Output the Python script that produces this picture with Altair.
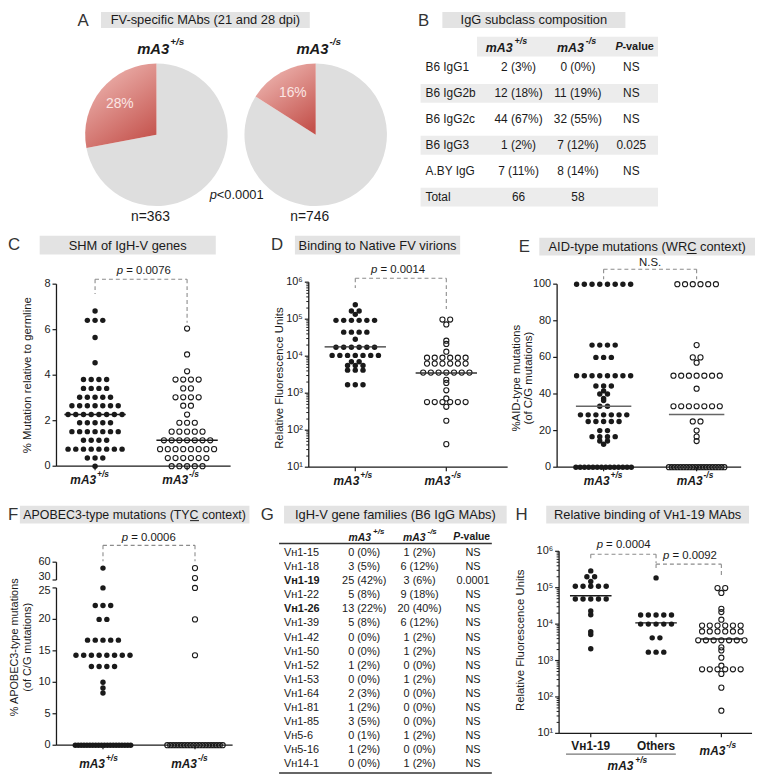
import json
import altair as alt
import pandas as pd

FONT = "Liberation Sans"
INK = "#1a1a1a"
W, H = 755, 770
M = 8


def X(x):
    return x - M


def Y(y):
    return y - M


DUMMY = pd.DataFrame({"k": [0]})

# ---------------- data ----------------
genotypes = ["+/s", "-/s"]

# A : FV-specific MAbs
pie_pct = [28, 16]
pie_n = [363, 746]
pie_p = "<0.0001"

# B : IgG subclass composition
b_rows = ["B6 IgG1", "B6 IgG2b", "B6 IgG2c", "B6 IgG3", "A.BY IgG", "Total"]
b_pos = ["2 (3%)", "12 (18%)", "44 (67%)", "1 (2%)", "7 (11%)", "66"]
b_neg = ["0 (0%)", "11 (19%)", "32 (55%)", "7 (12%)", "8 (14%)", "58"]
b_pval = ["NS", "NS", "NS", "0.025", "NS", ""]

# C : SHM of IgH-V genes (% mutation)
c_pos = [6.82, 6.41, 6.41, 6.41, 5.66, 4.55,
         3.81, 3.81, 3.81, 3.81, 3.42, 3.42, 3.42, 3.42,
         3.03, 3.03, 3.03, 3.03, 3.03,
         2.66, 2.66, 2.66, 2.66, 2.66, 2.66, 2.66,
         2.27, 2.27, 2.27, 2.27, 2.27, 2.27, 2.27, 2.27,
         1.91, 1.91, 1.91, 1.91, 1.91,
         1.52, 1.52, 1.52, 1.52, 1.52, 1.52, 1.52,
         1.14, 1.14, 1.14, 1.14,
         0.75, 0.75, 0.75, 0.75, 0.75, 0.75, 0.75, 0.75,
         0.36, 0.36, 0.36, 0.0]
c_neg = [6.05, 4.91, 4.17, 3.81, 3.81, 3.81, 3.81, 3.42, 3.42,
         3.03, 3.03, 3.03, 3.03, 2.66, 2.66, 2.27, 1.91, 1.91, 1.91,
         1.52, 1.52, 1.52, 1.52, 1.52,
         1.14, 1.14, 1.14, 1.14, 1.14, 1.14, 1.14,
         0.75, 0.75, 0.75, 0.75, 0.75, 0.75, 0.75, 0.75,
         0.36, 0.36, 0.36, 0.36, 0.36, 0.36,
         0.0, 0.0, 0.0, 0.0, 0.0]
c_med = [2.27, 1.14]
c_ticks = [0, 2, 4, 6, 8]

# D : binding to native FV virions (RFU)
d_pos = [245000, 166000, 166000, 135000,
         93000, 93000, 93000, 93000, 93000, 93000,
         44700, 44700, 44700, 44700, 28800,
         17400, 17400, 17400, 17400, 17400, 17400,
         10500, 10500, 10500, 10500, 10500, 10500, 10500,
         7100, 7100, 5600, 5600, 5600, 4200, 4200, 4200,
         1700, 1700, 1700]
d_neg = [98000, 98000, 72000, 26300, 21400, 13200,
         9100, 9100, 9100, 9100, 9100, 9100,
         6300, 6300, 6300, 6300, 6300, 6300,
         3600, 3600, 3600, 3600, 3600, 3600, 3600,
         2300, 1900, 1200, 720,
         575, 575, 575, 575, 575, 575,
         430, 180, 42]
d_med = [17900, 3500]
log_ticks = [10, 100, 1000, 10000, 100000, 1000000]
log_tick_labels = ["10\u00b9", "10\u00b2", "10\u00b3", "10\u2074", "10\u2075", "10\u2076"]

# E : AID-type mutations (%)
e_pos = [100, 100, 100, 100, 100, 100, 100, 100,
         66.7, 66.7, 66.7, 66.7, 60, 60, 60,
         50, 50, 50, 50, 50, 50, 50, 50,
         44.4, 44.4, 44.4, 41.7, 40, 40, 37.5, 36.4, 33.3, 33.3,
         28.6, 28.6, 28.6, 28.6, 28.6, 28.6, 28.6,
         25, 25, 25, 25, 25, 20, 20,
         16.7, 16.7, 16.7, 16.7, 14.3, 14.3, 12.5,
         0, 0, 0, 0, 0, 0, 0, 0, 0, 0, 0, 0, 0, 0]
e_neg = [100, 100, 100, 100, 100, 100, 66.7, 60, 60, 57.1,
         50, 50, 50, 50, 50, 50, 50, 42.9,
         33.3, 33.3, 33.3, 33.3, 33.3, 33.3, 33.3,
         25, 25, 20, 16.7, 14.3,
         0, 0, 0, 0, 0, 0, 0, 0, 0, 0, 0, 0, 0, 0, 0, 0, 0, 0, 0, 0]
e_med = [33.3, 28.8]
e_ticks = [0, 20, 40, 60, 80, 100]

# F : APOBEC3-type mutations (%)
f_pos = [50, 25, 22.2, 22.2, 22.2, 20, 20,
         16.7, 16.7, 16.7, 16.7, 16.7,
         14.3, 14.3, 14.3, 14.3, 14.3, 14.3, 14.3, 14.3,
         12.5, 12.5, 12.5, 12.5, 10, 9.1, 8.3,
         0, 0, 0, 0, 0, 0, 0, 0, 0, 0, 0, 0, 0, 0, 0, 0, 0, 0, 0, 0]
f_neg = [50, 33.3, 25, 20, 14.3,
         0, 0, 0, 0, 0, 0, 0, 0, 0, 0, 0, 0, 0, 0, 0, 0, 0, 0, 0, 0]
f_ticks = [0, 5, 10, 15, 20, 25, 30, 60]

# G : IgH-V gene families
g_genes = ["V\u029c1-15", "V\u029c1-18", "V\u029c1-19", "V\u029c1-22", "V\u029c1-26",
           "V\u029c1-39", "V\u029c1-42", "V\u029c1-50", "V\u029c1-52", "V\u029c1-53",
           "V\u029c1-64", "V\u029c1-81", "V\u029c1-85", "V\u029c5-6", "V\u029c5-16",
           "V\u029c14-1"]
g_pos = ["0 (0%)", "3 (5%)", "25 (42%)", "5 (8%)", "13 (22%)", "5 (8%)", "0 (0%)",
         "0 (0%)", "1 (2%)", "0 (0%)", "2 (3%)", "1 (2%)", "3 (5%)", "0 (1%)",
         "1 (2%)", "0 (0%)"]
g_neg = ["1 (2%)", "6 (12%)", "3 (6%)", "9 (18%)", "20 (40%)", "6 (12%)", "1 (2%)",
         "1 (2%)", "0 (0%)", "1 (2%)", "0 (0%)", "0 (0%)", "0 (0%)", "1 (2%)",
         "0 (0%)", "1 (2%)"]
g_pval = ["NS", "NS", "0.0001", "NS", "NS", "NS", "NS", "NS", "NS", "NS", "NS",
          "NS", "NS", "NS", "NS", "NS"]
g_bold = ["V\u029c1-19", "V\u029c1-26"]

# H : relative binding of VH1-19 MAbs (RFU)
h_cats = ["V\u029c1-19", "Others", "-/s"]
h_vh119 = [290000, 200000, 200000, 148000,
           110000, 110000, 110000, 110000, 110000,
           49000, 49000, 49000, 49000, 49000,
           23000, 18000, 6200, 5200, 2100]
h_others = [186000, 17800, 17800, 17800, 17800, 17800,
            10000, 10000, 10000, 10000, 10000, 4200, 4200, 1700, 1700, 1700]
h_neg = d_neg
h_med = [60000, 10800, 3900]

log_minor = [m * 10 ** k for k in range(1, 6) for m in range(2, 10)]


# ---------------- helpers ----------------
def T(s, x, y, size=12, weight="normal", style="normal", align="center",
      color=INK, angle=0):
    return alt.Chart(DUMMY).mark_text(
        text=s, font=FONT, fontSize=size, fontWeight=weight, fontStyle=style,
        align=align, baseline="middle", color=color, angle=angle
    ).encode(x=alt.value(X(x)), y=alt.value(Y(y)))


def R(x0, x1, y0, y1, color=INK, width=1.3):
    return alt.Chart(DUMMY).mark_rule(color=color, strokeWidth=width).encode(
        x=alt.value(X(x0)), x2=alt.value(X(x1)), y=alt.value(Y(y0)), y2=alt.value(Y(y1)))


def header(letter, lx, ly, title, bx0, bx1, by0, by1, tsize=13, lalign="center"):
    box = alt.Chart(DUMMY).mark_rect(color="#e3e3e3").encode(
        x=alt.value(X(bx0)), x2=alt.value(X(bx1)),
        y=alt.value(Y(by0)), y2=alt.value(Y(by1)))
    return [box, T(letter, lx, ly, size=17, color="#333", align=lalign),
            T(title, (bx0 + bx1) / 2, (by0 + by1) / 2 + 0.5, size=tsize)]


def ptext(val, x0, y, size=11.5):
    return [T("p", x0, y, size=size, style="italic", align="left"),
            T("= " + val, x0 + 9.5, y, size=size, align="left")]


def dtext(s, xd, xs, y, size=12, weight="bold", style="normal", align="center",
          dx=0, dy=0):
    return alt.Chart(DUMMY).mark_text(
        text=s, font=FONT, fontSize=size, fontWeight=weight, fontStyle=style,
        align=align, baseline="middle", color=INK, dx=dx, dy=dy
    ).encode(x=alt.XDatum(xd, scale=xs, axis=None), y=alt.value(Y(y)))


def geno(sup, xd, xs, y, gap, size=12, supsize=8.5):
    return [dtext("mA3", xd, xs, y, size=size, style="italic", align="right", dx=gap),
            dtext(sup, xd, xs, y, size=supsize, style="italic", align="left",
                  dx=gap + 1, dy=-6)]


def dot_panel(series, opens, medians, cfg):
    b = cfg["b"]
    a = cfg["c1"] - b
    x0, x1 = cfg["x0"], cfg["x1"]
    idxs = list(range(1, len(series) + 1))
    xs = alt.Scale(domain=[(x0 - a) / b, (x1 - a) / b],
                   range=[X(x0), X(x1)], nice=False, zero=False)
    ys = cfg["yscale"]
    rows = []
    for i, (vals, op) in enumerate(zip(series, opens)):
        for v in vals:
            rows.append({"idx": i + 1, "v": v, "open": op})
    df = pd.DataFrame(rows)
    step, maxw = 7.8, 56
    base = alt.Chart(df).transform_window(
        rn="row_number()", groupby=["idx", "v"]
    ).transform_joinaggregate(
        cnt="count()", groupby=["idx", "v"]
    ).transform_calculate(
        xp=f"datum.idx + (datum.rn - 1 - (datum.cnt - 1) / 2) * "
           f"min({step}, {maxw} / max(datum.cnt - 1, 1)) / {b}"
    )
    layers = []
    # ---- hand-built axes through the panel scales ----
    tdf = pd.DataFrame({"t": cfg["yticks"], "lab": cfg["ylabels"]})
    layers.append(alt.Chart(tdf).mark_rule(color=INK, strokeWidth=1.2).encode(
        x=alt.value(X(x0 - 4)), x2=alt.value(X(x0)),
        y=alt.Y("t:Q", scale=ys, axis=None)))
    nudges = cfg.get("label_dy", {})
    plain = [t for t in cfg["yticks"] if t not in nudges]
    groups = [(plain, 0)] + [([t], d) for t, d in nudges.items()]
    for vals, dy in groups:
        layers.append(alt.Chart(tdf).transform_filter(
            alt.FieldOneOfPredicate(field="t", oneOf=vals)).mark_text(
            font=FONT, fontSize=11, align="right", baseline="middle", color=INK,
            dy=dy).encode(
            x=alt.value(X(x0 - 6)), y=alt.Y("t:Q", scale=ys, axis=None), text="lab:N"))
    if cfg.get("minor"):
        mdf0 = pd.DataFrame({"t": cfg["minor"]})
        layers.append(alt.Chart(mdf0).mark_rule(color=INK, strokeWidth=1).encode(
            x=alt.value(X(x0 - 2.5)), x2=alt.value(X(x0)),
            y=alt.Y("t:Q", scale=ys, axis=None)))
    if not cfg.get("nodomain"):
        d0, d1 = cfg["ydom"]
        layers.append(alt.Chart(DUMMY).mark_rule(color=INK, strokeWidth=1.3).encode(
            x=alt.value(X(x0)), y=alt.YDatum(d0, scale=ys, axis=None), y2=alt.Y2Datum(d1)))
    layers.append(R(x0, x1, cfg["xy"], cfg["xy"]))
    idf = pd.DataFrame({"idx": idxs})
    layers.append(alt.Chart(idf).mark_rule(color=INK, strokeWidth=1.2).encode(
        x=alt.X("idx:Q", scale=xs, axis=None),
        y=alt.value(Y(cfg["xy"])), y2=alt.value(Y(cfg["xy"] + 4))))
    # ---- points ----
    layers.append(base.transform_filter("!datum.open").mark_circle(
        size=30, color=INK, opacity=1).encode(
        x=alt.X("xp:Q", scale=xs, axis=None),
        y=alt.Y("v:Q", scale=ys, axis=None)))
    if any(opens):
        layers.append(base.transform_filter("datum.open").mark_point(
            shape="circle", size=27, color=INK, strokeWidth=1.1, filled=False,
            opacity=1).encode(
            x=alt.X("xp:Q", scale=xs, axis=None),
            y=alt.Y("v:Q", scale=ys, axis=None)))
    if medians:
        mdf = pd.DataFrame({"idx": idxs, "m": medians})
        hw = cfg["hw"]
        layers.append(alt.Chart(mdf).transform_calculate(
            xa=f"datum.idx - {hw} / {b}", xb=f"datum.idx + {hw} / {b}"
        ).mark_rule(color=cfg["medcolor"], strokeWidth=1.4).encode(
            x=alt.X("xa:Q", scale=xs, axis=None), x2="xb:Q",
            y=alt.Y("m:Q", scale=ys, axis=None)))
    dash = dict(color="#8c8c8c", strokeWidth=1.1, strokeDash=[4, 3])
    for (i1, i2, top, bot1, bot2) in cfg["brackets"]:
        layers.append(alt.Chart(DUMMY).mark_rule(**dash).encode(
            x=alt.XDatum(i1, scale=xs, axis=None), x2=alt.X2Datum(i2),
            y=alt.value(Y(top))))
        layers.append(alt.Chart(DUMMY).mark_rule(**dash).encode(
            x=alt.XDatum(i1, scale=xs, axis=None),
            y=alt.value(Y(top)), y2=alt.value(Y(bot1))))
        layers.append(alt.Chart(DUMMY).mark_rule(**dash).encode(
            x=alt.XDatum(i2, scale=xs, axis=None),
            y=alt.value(Y(top)), y2=alt.value(Y(bot2))))
    for extra in cfg.get("extra", []):
        layers.extend(extra(xs, ys))
    return alt.layer(*layers)


layers = []

# ---------------- A ----------------
layers += header("A", 84, 17, "FV-specific MAbs (21 and 28 dpi)", 102, 313, 8, 24)
th = alt.Scale(domain=[0, 100], range=[0, 6.283185])
pdf = pd.DataFrame({"g": genotypes, "pct": pie_pct, "n": pie_n})
pxs = alt.Scale(type="point", domain=genotypes, range=[X(158), X(319)], padding=0)
pb = alt.Chart(pdf).encode(x=alt.X("g:N", scale=pxs, axis=None), y=alt.value(Y(132)))
grad = alt.LinearGradient(
    gradient="linear",
    stops=[alt.GradientStop(color="#efb9b4", offset=0),
           alt.GradientStop(color="#c4524c", offset=1)],
    x1=0.2, x2=0.8, y1=0, y2=1)
pie = alt.layer(
    pb.transform_calculate(s0="0", s1="100 - datum.pct").mark_arc(
        radius=72, color="#dedede").encode(
        theta=alt.Theta("s0:Q", scale=th, stack=False), theta2="s1:Q"),
    pb.transform_calculate(s0="100 - datum.pct", s1="100").mark_arc(
        radius=72, color=grad).encode(
        theta=alt.Theta("s0:Q", scale=th, stack=False), theta2="s1:Q"),
    pb.transform_calculate(m="100 - datum.pct / 2", t="datum.pct + '%'").mark_text(
        radius=48, font=FONT, fontSize=14, color="#fbe6e4").encode(
        theta=alt.Theta("m:Q", scale=th, stack=False), text="t:N"),
    alt.Chart(pdf).transform_calculate(t="'n=' + datum.n").mark_text(
        font=FONT, fontSize=14, color=INK, dx=-6).encode(
        x=alt.X("g:N", scale=pxs, axis=None), y=alt.value(Y(215)), text="t:N"),
    alt.Chart(pdf).mark_text(text="mA3", font=FONT, fontSize=15, fontWeight="bold",
                             fontStyle="italic", align="right", dx=13, color=INK).encode(
        x=alt.X("g:N", scale=pxs, axis=None), y=alt.value(Y(45))),
    alt.Chart(pdf).mark_text(font=FONT, fontSize=10, fontWeight="bold",
                             fontStyle="italic", align="left", dx=14, color=INK).encode(
        x=alt.X("g:N", scale=pxs, axis=None), y=alt.value(Y(38)), text="g:N"),
)
layers.append(pie)
layers += [T("p", 212, 193, size=13, style="italic", align="left"),
           T(pie_p, 219, 193, size=13, align="left")]

# ---------------- B ----------------
layers += header("B", 428, 17, "IgG subclass composition", 447, 632, 8, 24)
bdf = pd.DataFrame({"row": b_rows, "pos": b_pos, "neg": b_neg, "p": b_pval})
bys = alt.Scale(type="point", domain=b_rows, range=[Y(64), Y(195)], padding=0)


def bcol(field, x, align):
    return alt.Chart(bdf).mark_text(font=FONT, fontSize=12, align=align,
                                    baseline="middle", color=INK).encode(
        x=alt.value(X(x)), y=alt.Y("row:N", scale=bys, axis=None), text=f"{field}:N")


btab = alt.layer(
    alt.Chart(bdf).transform_window(rn="row_number()").transform_filter(
        "datum.rn % 2 == 0").mark_rule(color="#ececec", strokeWidth=19).encode(
        x=alt.value(X(425)), x2=alt.value(X(665)),
        y=alt.Y("row:N", scale=bys, axis=None)),
    bcol("row", 430, "left"), bcol("pos", 524, "center"),
    bcol("neg", 584, "center"), bcol("p", 638, "center"),
)
layers.append(alt.Chart(DUMMY).mark_rule(color="#ececec", strokeWidth=20).encode(
    x=alt.value(X(482)), x2=alt.value(X(665)), y=alt.value(Y(43))))
layers.append(btab)
layers += [T("mA3", 518, 44, size=12.5, weight="bold", style="italic", align="right"),
           T("+/s", 520, 37, size=9, weight="bold", style="italic", align="left"),
           T("mA3", 590, 44, size=12.5, weight="bold", style="italic", align="right"),
           T("-/s", 592, 37, size=9, weight="bold", style="italic", align="left"),
           T("P", 622, 43, size=11, weight="bold", style="italic", align="left"),
           T("-value", 629, 43, size=11, weight="bold", align="left")]

# ---------------- C ----------------
layers += header("C", 8, 243, "SHM of IgH-V genes", 40, 218, 234, 253, lalign="left")
cfgC = dict(x0=57, x1=233, c1=96, b=93, xy=467,
            yscale=alt.Scale(domain=[0, 8], range=[Y(467), Y(283)], nice=False, zero=False),
            yticks=c_ticks, ylabels=[str(t) for t in c_ticks], ydom=(0, 8),
            hw=31, medcolor=INK, brackets=[(1, 2, 278, 293, 322)],
            extra=[lambda xs, ys: geno("+/s", 1, xs, 481, 1) + geno("-/s", 2, xs, 481, 1)])
layers.append(dot_panel([c_pos, c_neg], [False, True], c_med, cfgC))
layers += ptext("0.0076", 118, 270)
layers.append(T("% Mutation relative to germline", 28, 375, size=11.5, angle=270))

# ---------------- D ----------------
layers += header("D", 280, 243, "Binding to Native FV virions", 298, 465, 234, 253)
cfgD = dict(x0=312, x1=513, c1=359, b=92, xy=468,
            yscale=alt.Scale(type="log", domain=[10, 1000000], range=[Y(468), Y(281)], nice=False),
            yticks=log_ticks, ylabels=log_tick_labels, ydom=(10, 1000000), minor=log_minor,
            hw=31, medcolor="#333", brackets=[(1, 2, 277, 287, 308)],
            extra=[lambda xs, ys: geno("+/s", 1, xs, 482, 4) + geno("-/s", 2, xs, 482, 4)])
layers.append(dot_panel([d_pos, d_neg], [False, True], d_med, cfgD))
layers += ptext("0.0014", 375, 269)
layers.append(T("Relative Fluorescence Units", 283, 378, size=11.5, angle=270))

# ---------------- E ----------------
layers += header("E", 530, 245, "AID-type mutations (WRC context)", 545, 763, 236, 254)
layers.append(R(694, 704, 252, 252, width=1))
cfgE = dict(x0=563, x1=749, c1=610, b=94, xy=468,
            yscale=alt.Scale(domain=[0, 100], range=[Y(468), Y(283)], nice=False, zero=False),
            yticks=e_ticks, ylabels=[str(t) for t in e_ticks], ydom=(0, 100),
            hw=28, medcolor="#666", brackets=[(1, 2, 268, 278, 278)],
            extra=[lambda xs, ys: geno("+/s", 1, xs, 482, 6) + geno("-/s", 2, xs, 482, 6)])
layers.append(dot_panel([e_pos, e_neg], [False, True], e_med, cfgE))
layers.append(T("N.S.", 657, 262, size=11.5))
layers.append(T("%AID-type mutations", 522, 378, size=11.5, angle=270))
layers.append(T("(of C/G mutations)", 535, 378, size=11.5, angle=270))


# ---------------- F ----------------
def f_axis(xs, ys):
    seg = dict(color=INK, strokeWidth=1.3)
    return [
        alt.Chart(DUMMY).mark_rule(**seg).encode(
            x=alt.value(X(57)), y=alt.YDatum(0, scale=ys, axis=None), y2=alt.Y2Datum(25)),
        alt.Chart(DUMMY).mark_rule(**seg).encode(
            x=alt.value(X(57)), y=alt.YDatum(30, scale=ys, axis=None), y2=alt.Y2Datum(60)),
    ] + geno("+/s", 1, xs, 768, 2) + geno("-/s", 2, xs, 768, 2)


layers += header("F", 8, 516, "APOBEC3-type mutations (TYC context)", 20, 252, 507, 525,
                 tsize=12.5, lalign="left")
layers.append(R(192, 201, 522, 522, width=1))
cfgF = dict(x0=57, x1=235, c1=104, b=93, xy=749,
            yscale=alt.Scale(domain=[0, 25, 30, 60], range=[Y(749), Y(590), Y(582), Y(564)],
                             nice=False, zero=False),
            yticks=f_ticks, ylabels=[str(t) for t in f_ticks], nodomain=True,
            label_dy={30: -2.5, 25: 3},
            brackets=[(1, 2, 547, 563, 563)], extra=[f_axis])
layers.append(dot_panel([f_pos, f_neg], [False, True], None, cfgF))
layers += ptext("0.0006", 123, 540)
layers.append(T("% APOBEC3-type mutations", 15, 650, size=11, angle=270))
layers.append(T("(of C/G mutations)", 28, 650, size=11, angle=270))

# ---------------- G ----------------
layers += header("G", 270, 516, "IgH-V gene families (B6 IgG MAbs)", 287, 512, 507, 525)
gdf = pd.DataFrame({"gene": g_genes, "pos": g_pos, "neg": g_neg, "p": g_pval})
gys = alt.Scale(type="point", domain=g_genes, range=[Y(555), Y(768)], padding=0)
bold_test = "indexof(" + json.dumps(g_bold, ensure_ascii=False) + ", datum.gene) >= 0"


def gcol(field, x, align, weight="normal", flt=None):
    ch = alt.Chart(gdf)
    if flt:
        ch = ch.transform_filter(flt)
    return ch.mark_text(font=FONT, fontSize=11, align=align, baseline="middle",
                        color=INK, fontWeight=weight).encode(
        x=alt.value(X(x)), y=alt.Y("gene:N", scale=gys, axis=None), text=f"{field}:N")


gtab = alt.layer(
    gcol("gene", 287, "left", flt="!(" + bold_test + ")"),
    gcol("gene", 287, "left", weight="bold", flt=bold_test),
    gcol("pos", 368, "center"), gcol("neg", 424, "center"), gcol("p", 478, "center"),
)
layers.append(gtab)
layers += [T("mA3", 375, 540, size=10.5, weight="bold", style="italic", align="right"),
           T("+/s", 377, 534, size=8, weight="bold", style="italic", align="left"),
           T("mA3", 430, 540, size=10.5, weight="bold", style="italic", align="right"),
           T("-/s", 432, 534, size=8, weight="bold", style="italic", align="left"),
           T("P", 458, 539, size=10.5, weight="bold", style="italic", align="left"),
           T("-value", 465, 539, size=10.5, weight="bold", align="left")]
for yy in (545, 777):
    layers.append(R(282, 497, yy, yy, color="#333", width=1.5))


# ---------------- H ----------------
def h_labels(xs, ys):
    return [dtext(h_cats[0], 1, xs, 750), dtext(h_cats[1], 2, xs, 750)] + \
        geno(h_cats[2], 3, xs, 755, 4)


layers += header("H", 527, 516, "Relative binding of V\u029c1-19 MAbs", 552, 757, 507, 525)
cfgH = dict(x0=565, x1=760, c1=597, b=66, xy=737,
            yscale=alt.Scale(type="log", domain=[10, 1000000], range=[Y(737), Y(553)], nice=False),
            yticks=log_ticks, ylabels=log_tick_labels, ydom=(10, 1000000), minor=log_minor,
            hw=21, medcolor=INK,
            brackets=[(1, 2, 556, 563, 565), (2, 3, 566, 572, 577)], extra=[h_labels])
layers.append(dot_panel([h_vh119, h_others, h_neg], [False, False, True], h_med, cfgH))
layers += ptext("0.0004", 603, 547) + ptext("0.0092", 670, 558)
layers.append(T("Relative Fluorescence Units", 527, 643, size=11.5, angle=270))
layers.append(R(572, 683, 758, 758, color="#777", width=1.5))
layers += [T("mA3", 640, 770, size=12, weight="bold", style="italic", align="right"),
           T("+/s", 642, 764, size=8.5, weight="bold", style="italic", align="left")]

chart = alt.layer(*layers).resolve_scale(
    x="independent", y="independent", theta="independent"
).properties(
    width=W, height=H, padding=0, autosize=alt.AutoSizeParams(type="none")
).configure_view(stroke=None)

chart.save("out.html", embed_options={"renderer": "svg", "actions": False})
